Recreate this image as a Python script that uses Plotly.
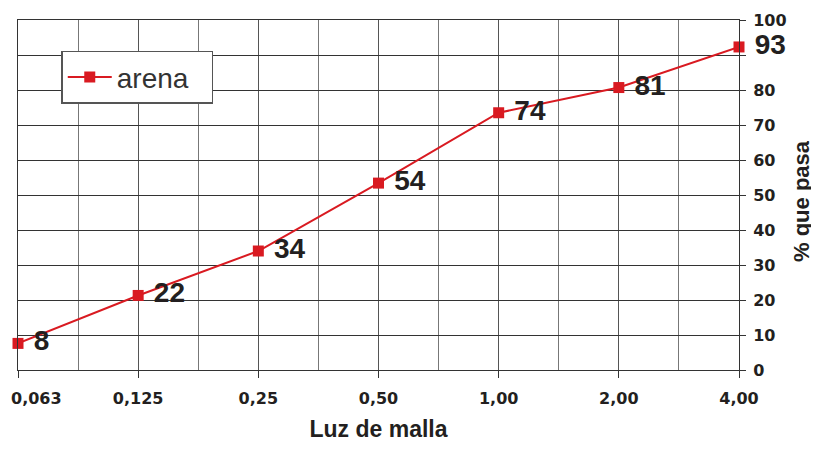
import plotly.graph_objects as go

categories = ["0,063", "0,125", "0,25", "0,50", "1,00", "2,00", "4,00"]
values = [7.6, 21.3, 34.0, 53.4, 73.5, 80.7, 92.3]
labels = ["8", "22", "34", "54", "74", "81", "93"]
y_ticks = [0, 10, 20, 30, 40, 50, 60, 70, 80, 90, 100]
y_ticktext = ["0", "10", "20", "30", "40", "50", "60", "70", "80", "", "100"]  # "90" is covered by the 93 label
series_name = "arena"
x_title = "Luz de malla"
y_title = "% que pasa"

xpos = list(range(len(categories)))
RED = "#d91a21"
TXT = "#231f20"
FONT = "Liberation Sans"
TICKFONT = "DejaVu Sans"

fig = go.Figure()
fig.add_trace(go.Scatter(
    x=xpos, y=values, name=series_name,
    mode="lines+markers+text",
    line=dict(color=RED, width=2),
    marker=dict(symbol="square", size=11, color=RED),
    text=labels, textposition="middle right",
    texttemplate="\u2008%{text}",
    textfont=dict(family=FONT, size=28, color=TXT, weight="bold"),
    cliponaxis=False,
))

# first category label sits shifted right so it stays inside the page
xt = ["" if i == 0 else c for i, c in enumerate(categories)]
fig.add_annotation(
    x=xpos[0], xref="x", y=0, yref="paper",
    text=categories[0], showarrow=False,
    xanchor="left", yanchor="middle", xshift=-9, yshift=-28,
    font=dict(family=TICKFONT, size=16, color=TXT, weight="bold"),
)
# right-hand axis title
fig.add_annotation(
    x=1, xref="paper", y=0.5, yref="paper",
    text=y_title, showarrow=False, textangle=-90,
    xanchor="center", yanchor="middle", xshift=62, yshift=-6,
    font=dict(family=FONT, size=22, color=TXT, weight="bold"),
)

fig.update_layout(
    width=811, height=434,
    margin=dict(l=9.5, r=80, t=12, b=72, autoexpand=False),
    paper_bgcolor="white", plot_bgcolor="white",
    font=dict(family=FONT, color=TXT),
    showlegend=True,
    legend=dict(
        orientation="h",
        x=0.06, y=0.912, xanchor="left", yanchor="top",
        bgcolor="white", bordercolor="#555555", borderwidth=1.5,
        font=dict(family=FONT, size=28, color="#333333"),
        itemwidth=44, entrywidth=90,
    ),
    xaxis=dict(
        range=[0, 6], tickvals=xpos, ticktext=xt,
        automargin=False,
        showgrid=True, gridcolor="#555555", gridwidth=1,
        minor=dict(dtick=0.5, tick0=0, showgrid=True, gridcolor="#777777", gridwidth=1, ticks=""),
        ticks="outside", ticklen=7, tickcolor="#333333", tickwidth=1,
        ticklabelstandoff=7,
        tickfont=dict(family=TICKFONT, size=16, color=TXT, weight="bold"),
        showline=True, linecolor="#333333", linewidth=1, mirror=True,
        zeroline=False,
        title=dict(text=x_title, font=dict(family=FONT, size=23, color=TXT, weight="bold"), standoff=23),
    ),
    yaxis=dict(
        side="right", range=[0, 100], tickvals=y_ticks, ticktext=y_ticktext,
        automargin=False,
        showgrid=True, gridcolor="#333333", gridwidth=1,
        ticks="outside", ticklen=6, tickcolor="#333333",
        ticklabelstandoff=4,
        tickfont=dict(family=TICKFONT, size=16, color=TXT, weight="bold"),
        showline=True, linecolor="#333333", linewidth=1, mirror=True,
        zeroline=False,
    ),
)

fig.write_html("out.html")
